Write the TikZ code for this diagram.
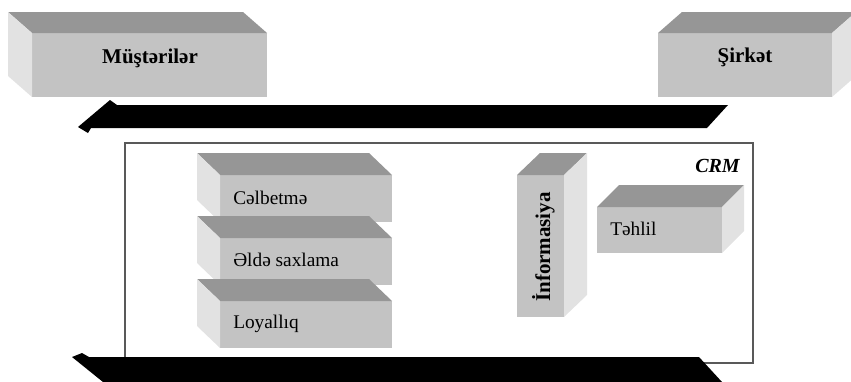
\documentclass[tikz,border=0pt]{standalone}
\usepackage{fontspec}
\setmainfont{Liberation Serif}
\usetikzlibrary{calc}
\definecolor{topgray}{HTML}{969696}
\definecolor{frontgray}{HTML}{C3C3C3}
\definecolor{sidegray}{HTML}{E2E2E2}
\definecolor{framegray}{HTML}{595959}
% top and side faces of a block whose depth goes up-left / up-right
\newcommand\facesL[3]{%
  \fill[topface] (#1.north west) -- ++(#2,#3) -- ($(#1.north east)+(#2,#3)$) -- (#1.north east) -- cycle;
  \fill[sideface] (#1.north west) -- ++(#2,#3) -- ($(#1.south west)+(#2,#3)$) -- (#1.south west) -- cycle;}
\newcommand\facesR[3]{%
  \fill[topface] (#1.north west) -- ++(#2,#3) -- ($(#1.north east)+(#2,#3)$) -- (#1.north east) -- cycle;
  \fill[sideface] (#1.north east) -- ++(#2,#3) -- ($(#1.south east)+(#2,#3)$) -- (#1.south east) -- cycle;}
\begin{document}
\begin{tikzpicture}[x=0.75pt,y=-0.75pt,
  front/.style={fill=frontgray, inner sep=0pt, outer sep=0pt, anchor=north west},
  topface/.style={fill=topgray},
  sideface/.style={fill=sidegray},
  lbl/.style={inner sep=0pt, font=\fontsize{14.5pt}{17pt}\selectfont},
  blbl/.style={inner sep=0pt, font=\fontsize{15.75pt}{18pt}\selectfont\bfseries},
  flow/.style={fill=black}]
\useasboundingbox (0,0) rectangle (851,382);

% customers and company
\node[front, minimum width=176.25pt, minimum height=48pt] (mus) at (32,33) {};
\facesL{mus}{-24}{-21}
\node[front, minimum width=130.5pt, minimum height=48pt] (sir) at (658,33) {};
\facesR{sir}{24}{-21}
\node[blbl, anchor=base] (tmus) at (150,63) {Müştərilər};
\node[blbl, anchor=base] (tsir) at (745,62) {Şirkət};

% upper flow
\fill[flow] (110,100) -- (117,105) -- (728,105) -- (707,128) -- (91,128) -- (88,133) -- (78,127) -- cycle;

% CRM frame
\draw[framegray, line width=0.9pt] (125,143) rectangle (753,363);
\node[inner sep=0pt, font=\fontsize{15pt}{18pt}\selectfont\bfseries\itshape, anchor=base east] (tcrm) at (740,172) {CRM};

% stacked blocks
\node[front, minimum width=129pt, minimum height=35.25pt] (celb) at (220,175) {};
\facesL{celb}{-23}{-22}
\node[lbl, anchor=base west] (tcelb) at (233,204) {Cəlbetmə};
\node[front, minimum width=129pt, minimum height=35.25pt] (elde) at (220,238) {};
\facesL{elde}{-23}{-22}
\node[lbl, anchor=base west] (telde) at (233,266) {Əldə saxlama};
\node[front, minimum width=129pt, minimum height=35.25pt] (loy) at (220,301) {};
\facesL{loy}{-23}{-22}
\node[lbl, anchor=base west] (tloy) at (233,328) {Loyallıq};

% information and analysis
\node[front, minimum width=35.25pt, minimum height=106.5pt] (info) at (517,175) {};
\facesR{info}{23}{-22}
\node[blbl, rotate=90, anchor=base] (tinfo) at (550,247) {İnformasiya};
\node[front, minimum width=93.75pt, minimum height=34.5pt] (tehl) at (597,207) {};
\facesR{tehl}{22}{-22}
\node[lbl, anchor=base west] (ttehl) at (610,235) {Təhlil};

% lower flow
\fill[flow] (72,357) -- (82,353) -- (89,357) -- (699,357) -- (722,382) -- (103,382) -- cycle;
\end{tikzpicture}
\end{document}
